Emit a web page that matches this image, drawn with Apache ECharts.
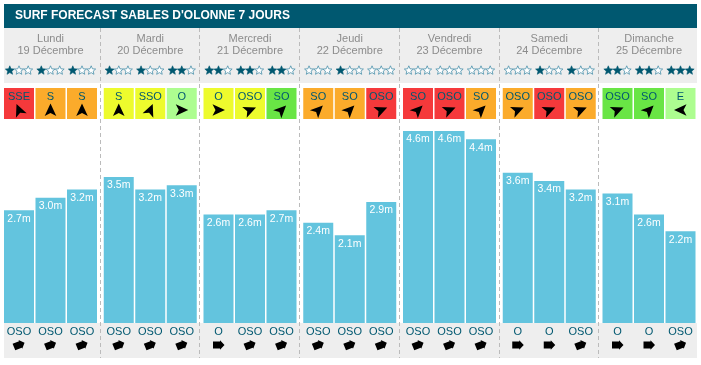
<!DOCTYPE html>
<html><head><meta charset="utf-8">
<style>html,body{margin:0;padding:0;background:#fff}#c{width:701px;height:365px}</style>
<script src="https://cdn.jsdelivr.net/npm/echarts@6/dist/echarts.min.js"></script>
</head><body><div id="c"></div>
<script>
const titleText = "SURF FORECAST SABLES D'OLONNE 7 JOURS";
const dayNames = ['Lundi','Mardi','Mercredi','Jeudi','Vendredi','Samedi','Dimanche'];
const dayDates = ['19 Décembre','20 Décembre','21 Décembre','22 Décembre','23 Décembre','24 Décembre','25 Décembre'];
const waveHeights = [[2.7,3.0,3.2],[3.5,3.2,3.3],[2.6,2.6,2.7],[2.4,2.1,2.9],[4.6,4.6,4.4],[3.6,3.4,3.2],[3.1,2.6,2.2]];
const stars = [[1,1,1],[1,1,2],[2,2,2],[0,1,0],[0,0,0],[0,1,1],[2,2,3]];
const windDirs = [['SSE','S','S'],['S','SSO','O'],['O','OSO','SO'],['SO','SO','OSO'],['SO','OSO','SO'],['OSO','OSO','OSO'],['OSO','SO','E']];
const windLevels = [['r','o','o'],['y','y','l'],['y','y','g'],['o','o','r'],['r','r','o'],['o','r','o'],['g','g','l']];
const swellDirs = [['OSO','OSO','OSO'],['OSO','OSO','OSO'],['O','OSO','OSO'],['OSO','OSO','OSO'],['OSO','OSO','OSO'],['O','O','OSO'],['O','O','OSO']];

const levelColors = {r:'#f5393b', o:'#fbab2b', y:'#edfb2d', g:'#69e545', l:'#adfd90'};
const bearing = {E:90, SSE:157.5, S:180, SSO:202.5, SO:225, OSO:247.5, O:270};
const TEAL = '#005870', BAR = '#63c4de', GREY = '#eeeeee';
const FONT = '"Liberation Sans", Arial, sans-serif';
const PX_PER_M = 41.75, Y_TOP = 28, Y_BASE = 323, STEP = 99.75, LEFT0 = 3.25, GRID_W = 94.5;
const SEP_X = [100,199,299,399,499,598];
const yMax = (Y_BASE - Y_TOP) / PX_PER_M;

const starPts = (r) => { const p = []; for (let k = 0; k < 10; k++) { const a = -Math.PI/2 + k*Math.PI/5, q = k%2 ? r*0.45 : r; p.push([q*Math.cos(a), q*Math.sin(a)]); } return p; };
const kite = [[0,-6.5],[5.8,6],[0,3],[-5.8,6]];
const fat = [[0,-6],[4.8,-1.5],[3.5,-1.5],[3.5,5.5],[-3.5,5.5],[-3.5,-1.5],[-4.8,-1.5]];
const rot = d => -((bearing[d] + 180) % 360) * Math.PI / 180;

const grids = [], xAxes = [], yAxes = [], series = [], graphics = [];
graphics.push({type:'rect', shape:{x:4,y:4,width:693,height:24}, style:{fill:TEAL}, z:0});
graphics.push({type:'rect', shape:{x:4,y:28,width:693,height:55}, style:{fill:GREY}, z:0});
graphics.push({type:'rect', shape:{x:4,y:323,width:693,height:35}, style:{fill:GREY}, z:0});
graphics.push({type:'text', x:15, y:16, style:{text:titleText, fill:'#fff', font:'bold 12px '+FONT, textVerticalAlign:'middle'}, z:5});

dayNames.forEach((name, i) => {
  const left = LEFT0 + STEP * i, mid = left + GRID_W / 2;
  grids.push({left, width:GRID_W, top:Y_TOP, height:Y_BASE - Y_TOP});
  xAxes.push({type:'category', gridIndex:i, data:swellDirs[i], axisLine:{show:false}, axisTick:{show:false},
    axisLabel:{color:TEAL, fontSize:11, fontFamily:FONT, margin:3, interval:0}});
  yAxes.push({type:'value', gridIndex:i, min:0, max:yMax, show:false, splitLine:{show:false}});
  series.push({type:'bar', xAxisIndex:i, yAxisIndex:i, data:waveHeights[i], barWidth:30, itemStyle:{color:BAR}, silent:true,
    label:{show:true, position:'insideTop', distance:3, color:'#fff', fontWeight:'normal', fontSize:10.5, fontFamily:FONT, formatter:p => p.value.toFixed(1)+'m'}});
  series.push({type:'custom', xAxisIndex:i, yAxisIndex:i, clip:false, silent:true, z:4,
    data:[0,1,2],
    renderItem:(params, api) => {
      const j = params.dataIndex, cx = api.coord([j,0])[0];
      const ch = [
        {type:'rect', shape:{x:cx-15,y:88,width:30,height:31}, style:{fill:levelColors[windLevels[i][j]]}},
        {type:'text', x:cx, y:96.5, style:{text:windDirs[i][j], fill:TEAL, font:'11px '+FONT, textAlign:'center', textVerticalAlign:'middle'}},
        {type:'polygon', x:cx, y:110, rotation:rot(windDirs[i][j]), shape:{points:kite}, style:{fill:'#000'}},
        {type:'polygon', x:cx, y:345, rotation:rot(swellDirs[i][j]), shape:{points:fat}, style:{fill:'#000'}}
      ];
      for (let s = 0; s < 3; s++) {
        ch.push({type:'polygon', x:cx - 9.2 + 9.2*s, y:70.5, shape:{points:starPts(4.7)},
          style: s < stars[i][j] ? {fill:TEAL, stroke:TEAL, lineWidth:0.6} : {fill:'#fff', stroke:'#4a90ab', lineWidth:0.8}});
      }
      return {type:'group', children:ch};
    }});
  graphics.push({type:'text', x:mid, y:39, style:{text:name, fill:'#8c8c8c', font:'11px '+FONT, textAlign:'center', textVerticalAlign:'middle'}, z:5});
  graphics.push({type:'text', x:mid, y:51, style:{text:dayDates[i], fill:'#8c8c8c', font:'11px '+FONT, textAlign:'center', textVerticalAlign:'middle'}, z:5});
});
SEP_X.forEach(x => graphics.push({type:'line', shape:{x1:x+0.5,y1:28,x2:x+0.5,y2:358}, style:{stroke:'#bbbbbb', lineWidth:1, lineDash:[4,3]}, z:5}));

const chart = echarts.init(document.getElementById('c'), null, {renderer:'canvas'});
chart.setOption({animation:false, backgroundColor:'#fff', grid:grids, xAxis:xAxes, yAxis:yAxes, series, graphic:{elements:graphics}, tooltip:{show:false}});
</script></body></html>
